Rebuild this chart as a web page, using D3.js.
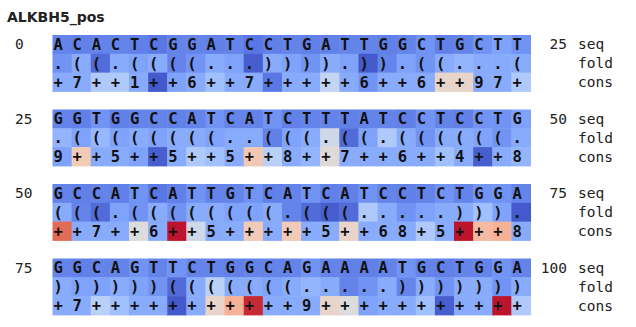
<!DOCTYPE html>
<html>
<head>
<meta charset="utf-8">
<script src="https://cdn.jsdelivr.net/npm/d3@7"></script>
<style>
  body { margin: 0; background: #fff; }
</style>
</head>
<body>
<div id="chart"></div>
<script>
const title = "ALKBH5_pos";
const rowNames = ["seq", "fold", "cons"];
const blockStarts = [0, 25, 50, 75];
const blockEnds = [25, 50, 75, 100];

const seq = "ACACTCGGATCCTGATTGGCTGCTT" + "GGTGGCCATCATCTTTATCCTCCTG" +
  "GCCATCATTGTCATCATCCTCTGGA" + "GGCAGTTCTGGCAGAAAATGCTGGA";
const foldRows = [
  ".((.((((...)))).)).((...(",
  ".((((((((..(((.((.((((((.",
  "(((.((((((((.(((.....))).",
  "))))))(((((((.....)))))))"
];
const consRows = [
  "+7++1++6++7+++++6++6++97+",
  "9++5++5++5++8++7++6++4++8",
  "++7++6++5+++++5++68+5+++8",
  "+7+++++++++++9+++++++++++"
];

// colour values (0 = blue, 0.5 = grey, 1 = red)
const seqScores = [
  .13,.12,.13,.13,.12,.10,.13,.13,.12,.13,.10,.12,.13,.12,.12,.13,.13,.12,.13,.17,.12,.13,.17,.21,.17,
  .13,.12,.17,.12,.13,.13,.12,.13,.17,.13,.13,.17,.12,.13,.13,.12,.13,.13,.12,.17,.13,.12,.17,.17,.21,
  .13,.12,.13,.12,.17,.10,.12,.17,.13,.13,.17,.12,.13,.17,.12,.12,.17,.13,.12,.13,.17,.13,.17,.17,.13,
  .13,.12,.13,.13,.17,.13,.17,.13,.13,.12,.13,.13,.13,.17,.13,.12,.12,.13,.17,.13,.12,.13,.13,.17,.13
];
const foldScores = [
  .17,.24,.07,.24,.21,.24,.13,.17,.24,.21,.04,.24,.21,.17,.24,.21,.03,.13,.21,.17,.24,.27,.24,.24,.24,
  .27,.21,.28,.21,.24,.21,.24,.24,.21,.24,.24,.12,.21,.24,.45,.07,.21,.35,.24,.17,.24,.24,.21,.17,.24,
  .24,.13,.07,.21,.17,.24,.17,.24,.24,.21,.21,.24,.13,.07,.04,.07,.35,.24,.17,.21,.24,.24,.31,.21,.03,
  .24,.21,.21,.24,.21,.17,.07,.24,.38,.24,.24,.21,.24,.27,.24,.13,.17,.24,.13,.24,.17,.24,.24,.17,.24
];
const consScores = [
  .24,.24,.35,.35,.24,.03,.21,.24,.31,.24,.24,.10,.24,.24,.41,.24,.17,.24,.24,.24,.55,.55,.24,.24,.35,
  .21,.60,.24,.24,.21,.04,.24,.35,.31,.24,.61,.38,.24,.27,.52,.24,.24,.24,.24,.24,.31,.24,.04,.24,.27,
  .85,.24,.24,.24,.50,.24,.98,.45,.24,.24,.60,.24,.60,.24,.24,.55,.24,.24,.24,.35,.24,.98,.65,.68,.24,
  .24,.24,.38,.31,.24,.24,.03,.24,.55,.68,.95,.24,.24,.24,.55,.50,.21,.24,.24,.31,.04,.24,.24,.98,.35
];

// coolwarm colormap stops
const coolwarm = ["#3b4cc0", "#5a78e4", "#7b9ff9", "#9ebeff", "#c0d4f5", "#dddcdc",
  "#f2cbb7", "#f7ac8e", "#ee8468", "#d65244", "#b40426"];
const color = d3.scaleLinear()
  .domain(d3.range(coolwarm.length).map(i => i / (coolwarm.length - 1)))
  .range(coolwarm)
  .interpolate(d3.interpolateRgb);

const width = 636, height = 327;
const svg = d3.select("#chart").append("svg")
  .attr("width", width)
  .attr("height", height);

svg.append("text")
  .attr("x", 7)
  .attr("y", 22)
  .attr("font-family", "DejaVu Sans, sans-serif")
  .attr("font-weight", "bold")
  .attr("font-size", 14)
  .attr("fill", "#222")
  .text(title);

const x = d3.scaleBand().domain(d3.range(25)).range([52.5, 530.5]);
const blockY = d3.scaleLinear().domain([0, 3]).range([35, 258.5]);
const rowY = d3.scaleBand().domain(rowNames).range([0, 56.4]);

const mono = "DejaVu Sans Mono, monospace";

blockStarts.forEach((start, b) => {
  const g = svg.append("g").attr("transform", `translate(0, ${blockY(b)})`);
  const rows = [
    { name: "seq", chars: seq.slice(start, start + 25), vals: seqScores.slice(start, start + 25) },
    { name: "fold", chars: foldRows[b], vals: foldScores.slice(start, start + 25) },
    { name: "cons", chars: consRows[b], vals: consScores.slice(start, start + 25) }
  ];
  rows.forEach(r => {
    const cells = d3.range(25).map(i => ({ i, ch: r.chars[i], v: r.vals[i] }));
    g.selectAll(null).data(cells).enter().append("rect")
      .attr("x", d => x(d.i))
      .attr("y", rowY(r.name))
      .attr("width", x.bandwidth() + 0.5)
      .attr("height", rowY.bandwidth() + 0.5)
      .attr("fill", d => color(d.v));
    g.selectAll(null).data(cells).enter().append("text")
      .attr("x", d => x(d.i) + 1)
      .attr("y", rowY(r.name) + rowY.bandwidth() / 2 + 5.5)
      .attr("font-family", mono)
      .attr("font-weight", "bold")
      .attr("font-size", 15.5)
      .attr("fill", "#111")
      .text(d => d.ch);
    // right side row label
    g.append("text")
      .attr("x", 578)
      .attr("y", rowY(r.name) + rowY.bandwidth() / 2 + 5)
      .attr("font-family", mono)
      .attr("font-size", 14.5)
      .attr("fill", "#222")
      .text(r.name);
  });
  // start / end position labels
  g.append("text")
    .attr("x", 15)
    .attr("y", rowY("seq") + rowY.bandwidth() / 2 + 5)
    .attr("font-family", mono)
    .attr("font-size", 14.5)
    .attr("fill", "#222")
    .text(start);
  g.append("text")
    .attr("x", 567)
    .attr("y", rowY("seq") + rowY.bandwidth() / 2 + 5)
    .attr("text-anchor", "end")
    .attr("font-family", mono)
    .attr("font-size", 14.5)
    .attr("fill", "#222")
    .text(blockEnds[b]);
});
</script>
</body>
</html>
